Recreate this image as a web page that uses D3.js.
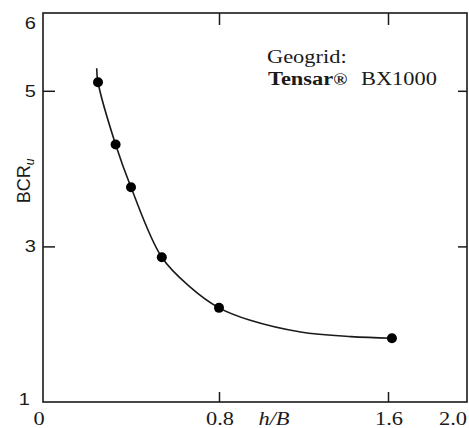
<!DOCTYPE html>
<html><head><meta charset="utf-8">
<script src="https://cdn.jsdelivr.net/npm/d3@7"></script>
<style>html,body{margin:0;padding:0;background:#fff;}svg{display:block;}</style>
</head><body>
<script>
// data
const pointsX = [0.25, 0.33, 0.40, 0.54, 0.80, 1.62];
const pointsY = [5.11, 4.31, 3.76, 2.86, 2.21, 1.82];
const curveX = [0.244, 0.25, 0.33, 0.40, 0.54, 0.668, 0.80, 0.948, 1.186, 1.424, 1.62];
const curveY = [5.29, 5.11, 4.31, 3.76, 2.86, 2.48, 2.21, 2.05, 1.90, 1.84, 1.82];
const xTicks = [0, 0.8, 1.6, 2.0];
const xTickLabels = ["0", "0.8", "1.6", "2.0"];
const yTicks = [1, 3, 5, 6];
const yTickLabels = ["1", "3", "5", "6"];
const innerXTicks = [0.8, 1.6];
const innerYTicks = [3, 5];

const W = 469, H = 428;
const L = 43, R = 467, T = 13, B = 402;
const ink = "#1a1a1a";
const SX = 1.18;

const svg = d3.select("body").append("svg").attr("width", W).attr("height", H);

const x = d3.scaleLinear().domain([0, 0.8, 1.6, 2.0]).range([L, 219, 388, R]);
const y = d3.scaleLinear().domain([1, 6]).range([B, T]);

// axes with inward ticks
svg.append("g").attr("transform", `translate(0,${B})`)
  .call(d3.axisBottom(x).tickValues(innerXTicks).tickSizeInner(-10).tickSizeOuter(0).tickFormat(""));
svg.append("g").attr("transform", `translate(0,${T})`)
  .call(d3.axisTop(x).tickValues(innerXTicks).tickSizeInner(-12).tickSizeOuter(0).tickFormat(""));
svg.append("g").attr("transform", `translate(${L},0)`)
  .call(d3.axisLeft(y).tickValues(innerYTicks).tickSizeInner(-12).tickSizeOuter(0).tickFormat(""));
svg.append("g").attr("transform", `translate(${R},0)`)
  .call(d3.axisRight(y).tickValues(innerYTicks).tickSizeInner(-9).tickSizeOuter(0).tickFormat(""));
svg.selectAll(".domain").remove();
svg.selectAll(".tick line").attr("stroke", ink).attr("stroke-width", 1.5);

svg.append("rect").attr("x", L).attr("y", T).attr("width", R - L).attr("height", B - T)
  .attr("fill", "none").attr("stroke", ink).attr("stroke-width", 1.6);

// curve
const curveData = curveX.map((v, i) => [v, curveY[i]]);
svg.append("path").datum(curveData)
  .attr("d", d3.line().x(d => x(d[0])).y(d => y(d[1])).curve(d3.curveCatmullRom.alpha(0.5)))
  .attr("fill", "none").attr("stroke", ink).attr("stroke-width", 1.6);

// points
svg.selectAll("circle.pt").data(pointsX.map((v, i) => [v, pointsY[i]])).enter()
  .append("circle").attr("class", "pt")
  .attr("cx", d => x(d[0])).attr("cy", d => y(d[1])).attr("r", 5).attr("fill", "#000");

function stretched(xp, yp, txt, opts) {
  const t = svg.append("text")
    .attr("transform", `translate(${xp},${yp}) scale(${SX},1)`)
    .attr("font-family", opts.family || "'Liberation Serif', 'Times New Roman', serif")
    .attr("font-size", opts.size || 19)
    .attr("font-weight", opts.weight || "normal")
    .attr("font-style", opts.style || "normal")
    .attr("text-anchor", opts.anchor || "start")
    .attr("fill", ink)
    .text(txt);
  return t;
}

// x tick labels
xTicks.forEach((v, i) => {
  const lab = xTickLabels[i];
  const px = i === 0 ? x(v) - 4 : (i === xTicks.length - 1 ? x(v) - 14 : x(v) + 1);
  stretched(px, 425, lab, {anchor: "middle", size: 19});
});
// x axis title
stretched(274, 425, "h/B", {anchor: "middle", style: "italic", size: 19});

// y tick labels
yTicks.forEach((v, i) => {
  let py = y(v) + 6;
  let px = 36;
  if (v === 6) py = y(v) + 16;
  if (v === 1) { py = y(v) + 3; px = 30; }
  stretched(px, py, yTickLabels[i], {anchor: "end", family: "'Liberation Sans', Arial, sans-serif", size: 17});
});

// y axis title
const yt = svg.append("text")
  .attr("transform", "translate(30,181) rotate(-90)")
  .attr("font-family", "'Liberation Sans', Arial, sans-serif")
  .attr("font-size", 18).attr("text-anchor", "middle").attr("fill", ink);
yt.append("tspan").text("BCR");
yt.append("tspan").attr("font-size", 12).attr("font-style", "italic").attr("dy", 4).text("u");

// annotation
stretched(267, 63, "Geogrid:", {size: 19});
const ts = stretched(268, 85, "Tensar", {size: 19, weight: "bold"});
ts.append("tspan").attr("font-size", 16).text("®");
stretched(361, 85, "BX1000", {size: 19});
</script>
</body></html>
